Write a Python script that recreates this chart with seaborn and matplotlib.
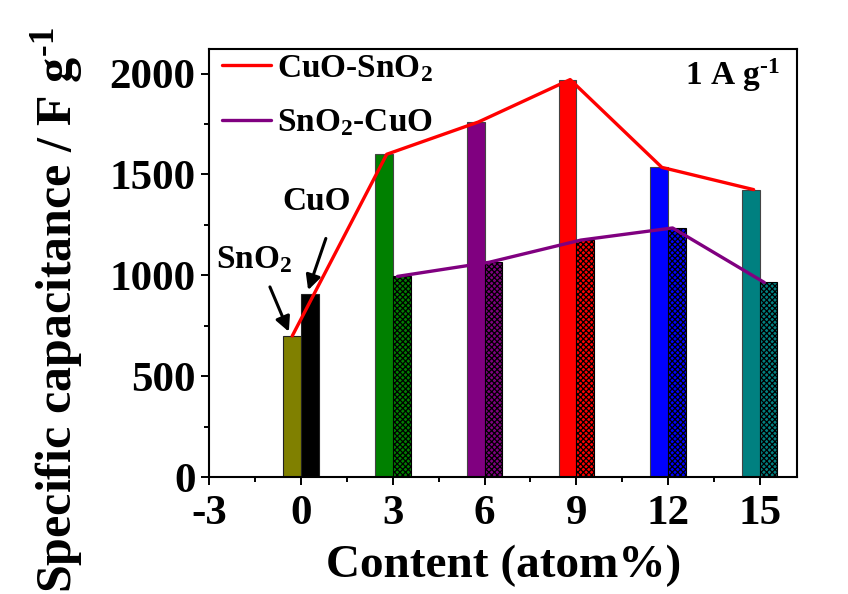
import numpy as np
import pandas as pd
import seaborn as sns
import matplotlib
matplotlib.use("Agg")
import matplotlib.pyplot as plt
from matplotlib.ticker import MultipleLocator

# Doping content (atom%) of the composite electrodes
contents = [3, 6, 9, 12, 15]
# Specific capacitance at 1 A g-1 (F g-1)
cuo_sno2 = [1600, 1760, 1970, 1535, 1425]   # CuO-SnO2 (solid bars)
sno2_cuo = [995, 1065, 1175, 1235, 965]     # SnO2-CuO (hatched bars)
pure_names = ["SnO$_2$", "CuO"]
pure_values = [700, 910]
bar_colors = ["#008000", "#800080", "#FF0000", "#0000FF", "#008080"]
pure_colors = ["#808000", "#000000"]
x_ticks = [-3, 0, 3, 6, 9, 12, 15]

sns.set_style("ticks")
plt.rcParams["font.family"] = ["Liberation Serif", "DejaVu Serif"]
plt.rcParams["font.weight"] = "bold"
plt.rcParams["text.color"] = "black"
plt.rcParams["axes.labelcolor"] = "black"
plt.rcParams["xtick.color"] = "black"
plt.rcParams["ytick.color"] = "black"
plt.rcParams["mathtext.fontset"] = "custom"
plt.rcParams["mathtext.rm"] = "Liberation Serif:bold"
plt.rcParams["mathtext.bf"] = "Liberation Serif:bold"
plt.rcParams["mathtext.it"] = "Liberation Serif:bold"
plt.rcParams["mathtext.default"] = "bf"
plt.rcParams["hatch.linewidth"] = 0.9

fig = plt.figure(figsize=(8.48, 5.94), dpi=100)
ax = fig.add_axes([0.2469, 0.1965, 0.6930, 0.7205])

w = 0.58
# pure oxides at 0 atom%
ax.bar([0, 0], pure_values, width=[-w, w], align="edge",
       color=pure_colors, edgecolor="#222222", linewidth=0.8, zorder=2)
# composites: solid (CuO-SnO2) left of the tick, hatched (SnO2-CuO) right
ax.bar(contents, cuo_sno2, width=-w, align="edge", color=bar_colors,
       edgecolor="#444444", linewidth=0.8, zorder=2)
ax.bar(contents, sno2_cuo, width=w, align="edge", color=bar_colors,
       edgecolor="black", linewidth=0.8, hatch="xxxxxx", zorder=2)

line_a = pd.DataFrame({
    "x": [-w / 2] + [c - 0.2 for c in contents],
    "y": [pure_values[0]] + cuo_sno2,
})
line_b = pd.DataFrame({
    "x": [c + 0.15 for c in contents],
    "y": sno2_cuo,
})
sns.lineplot(data=line_a, x="x", y="y", ax=ax, color="#FF0000", lw=2.4,
             sort=False, label="CuO-SnO$_2$", zorder=3)
sns.lineplot(data=line_b, x="x", y="y", ax=ax, color="#800080", lw=2.4,
             sort=False, label="SnO$_2$-CuO", zorder=3)

ax.set_xlim(-3, 16.22)
ax.set_ylim(0, 2120)
ax.set_xticks(x_ticks)
ax.set_xticklabels([str(t) for t in x_ticks])
ax.yaxis.set_major_locator(MultipleLocator(500))
ax.xaxis.set_minor_locator(MultipleLocator(1.5))
ax.yaxis.set_minor_locator(MultipleLocator(250))
ax.tick_params(axis="both", which="major", direction="out", length=6,
               width=1.4, labelsize=31, color="black", pad=4)
ax.tick_params(axis="x", which="major", pad=7)
ax.tick_params(axis="both", which="minor", direction="out", length=3.5,
               width=1.4, color="black")
for lab in ax.get_xticklabels() + ax.get_yticklabels():
    lab.set_fontweight("bold")
for sp in ax.spines.values():
    sp.set_visible(True)
    sp.set_linewidth(1.5)
    sp.set_color("black")

ax.set_xlabel("Content (atom%)", fontsize=34, fontweight="bold", labelpad=8)
ax.set_ylabel("Specific capacitance / F g$^{\\text{-1}}$", fontsize=36,
              fontweight="bold")
ax.yaxis.set_label_coords(-0.212, 0.39)

ax.text(0.971, 0.9166, "1 A g$^{\\text{-1}}$", transform=ax.transAxes,
        ha="right", va="baseline", fontsize=24, fontweight="bold")

# labels for the pure oxides, with their pointer arrows
ax.text(0.52, 1368, pure_names[1], fontsize=24, fontweight="bold",
        ha="center", va="center")
ax.text(-1.55, 1080, pure_names[0], fontsize=24, fontweight="bold",
        ha="center", va="center")
arrow_style = dict(arrowstyle="-|>", color="black", lw=2.2,
                   mutation_scale=22, shrinkA=0, shrinkB=0)
ax.annotate("", xy=(0.23, 927), xytext=(0.81, 1183), arrowprops=arrow_style)
ax.annotate("", xy=(-0.40, 721), xytext=(-1.02, 943), arrowprops=arrow_style)

leg = ax.legend(loc="upper left", bbox_to_anchor=(0.015, 1.0), frameon=False,
                fontsize=24, handlelength=1.47, handletextpad=0.18,
                labelspacing=0.7, borderaxespad=0.0, borderpad=0.11)
for t in leg.get_texts():
    t.set_fontweight("bold")

fig.savefig("out.png", dpi=100)
